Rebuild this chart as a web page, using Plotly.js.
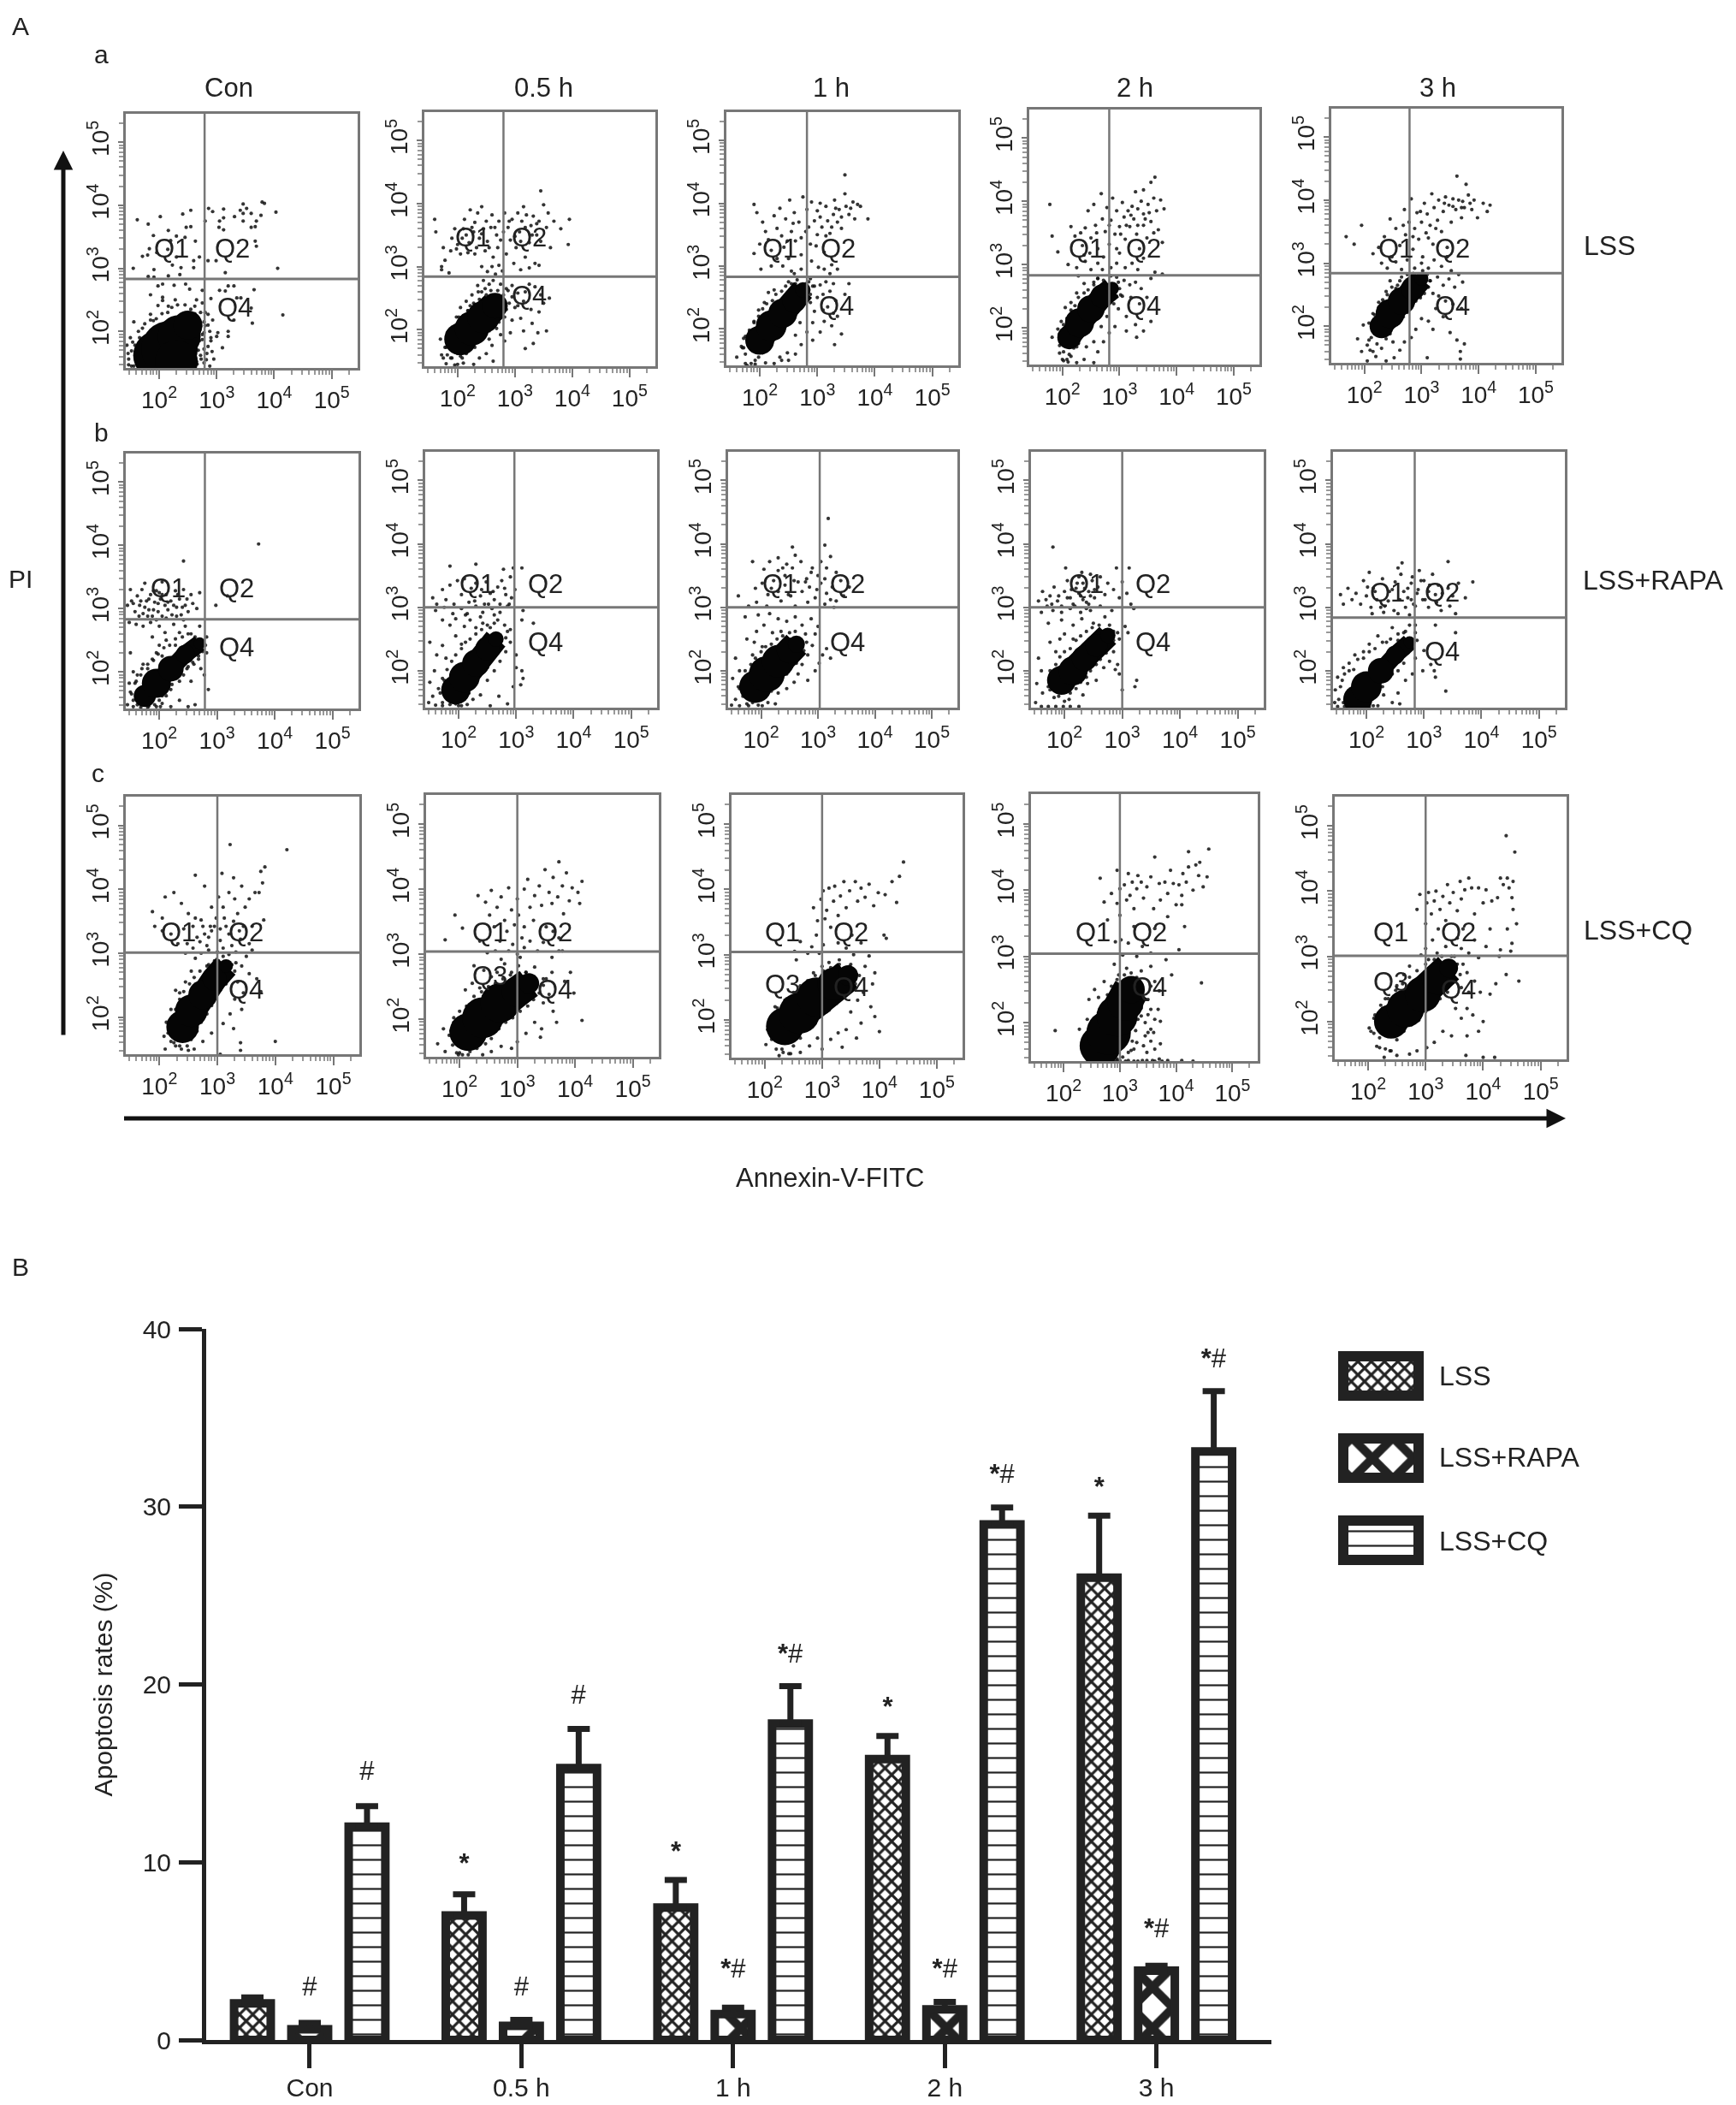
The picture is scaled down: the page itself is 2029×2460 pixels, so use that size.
<!DOCTYPE html>
<html>
<head>
<meta charset="utf-8">
<script src="https://cdn.plot.ly/plotly-3.0.1.min.js"></script>
<style>
html, body { margin: 0; padding: 0; background: #fff; }
#chart { filter: blur(0.6px); }
</style>
</head>
<body>
<div id="chart" style="width:2029px;height:2460px"></div>
<script>
// Panel A: events, as log10(Annexin), log10(PI) pairs
var dotsA1 = [1.62,3.77,1.81,3.7,2.02,3.82,2.41,3.86,2.55,3.92,2.47,3.65,2.55,3.66,2.16,3.6,1.9,3.52,2.3,3.51,2.45,3.49,2.2,3.44,2.63,3.43,1.83,3.31,1.71,3.19,1.8,3.21,1.96,3.25,2.15,3.3,2.3,3.18,2.86,3.95,2.93,3.9,3.12,3.94,2.8,3.75,3.05,3.75,3.12,3.8,3.04,3.65,3.12,3.61,3.31,3.82,3.41,3.92,3.46,4.02,3.52,3.95,3.46,3.87,3.46,3.75,3.6,3.87,3.6,3.65,3.67,3.66,3.69,3.75,3.77,3.84,3.79,4.05,3.83,4.03,4.03,3.89,3.67,3.43,3.69,3.35,4.06,3.0,1.55,3.0,1.91,2.98,1.81,2.87,1.91,2.86,2.16,2.88,2.36,2.9,2.23,3.05,2.38,3.01,2.6,3.01,2.6,3.12,2.7,3.18,2.85,3.12,2.99,3.12,3.15,2.93,1.98,2.72,2.06,2.75,2.26,2.73,2.46,2.75,2.53,2.67,2.75,2.65,1.85,2.58,2.06,2.54,2.06,2.49,2.28,2.5,2.65,2.5,1.98,2.41,2.16,2.4,2.75,2.45,2.9,2.52,3.05,2.65,3.15,2.64,3.2,2.72,3.3,2.72,3.65,2.66,3.35,2.53,3.42,2.53,3.3,2.18,3.6,2.37,3.62,2.13,4.15,2.26,1.56,2.15,1.85,2.27,1.9,2.17,2.85,2.27,2.93,2.18,2.8,2.09,2.88,2,3.02,1.98,3.2,2,3.2,1.92,3,1.92,2.75,1.87,2.85,1.76,3.1,1.74,2.95,1.56,2.83,1.65,2.73,1.56,2.68,1.7,2.88,1.45,2.66,1.48,1.52,1.69,1.47,1.56,1.59,1.62,1.44,1.78,1.54,1.83,1.64,2,1.71,2.05,1.47,1.47,1.56,1.45,2.8,2.3,2.72,2.3,2.62,2.4,2.9,1.9,2.78,1.98];
var dotsA2 = [1.6,3.75,1.62,3.55,1.75,3.3,1.78,3.1,1.72,3,1.9,3.45,1.95,3.6,1.88,3.25,2,3.35,2.05,3.2,2.1,3.6,2.12,3.75,2.15,3.5,2.2,3.38,2.22,3.9,2.28,3.55,2.3,3.7,2.3,3.2,2.35,3.85,2.38,3.45,2.42,3.95,2.45,3.6,2.48,3.25,2.5,3.72,2.52,3.4,2.58,3.62,2.6,3.82,2.62,3.15,2.68,3.5,2.7,3.3,2.72,3.72,2.8,3.55,2.82,3.85,2.85,3.2,2.88,3.62,2.92,3.42,2.95,3.75,2.98,3.05,3.02,3.3,3.05,3.85,3.08,3.55,3.12,3.72,3.15,3.95,3.18,3.15,3.2,3.82,3.25,3.38,3.28,3.65,3.32,3.8,3.38,3.5,3.42,3.72,3.45,4.2,3.5,3.98,3.55,3.62,3.58,3.85,3.62,3.3,3.68,3.72,3.8,3.6,3.95,3.75,3.93,3.35,2.42,3,2.52,2.92,2.6,3,2.66,2.88,2.72,3.02,2.78,2.93,3.1,2.95,3.25,2.98,3.35,3.05,3.42,3.02,1.72,2.95,1.85,2.9,2.35,2.7,2.45,2.78,2.62,2.78,2.75,2.72,2.85,2.65,2.95,2.7,3.05,2.58,3.18,2.6,3.25,2.72,3.35,2.68,3.45,2.55,3.5,2.42,3.6,2.5,3.05,2.38,3.15,2.45,3.28,2.32,3.42,2.28,3.3,2.1,3.1,2.18,3.15,1.98,3.4,1.95,3.55,1.98,3.18,1.7,3.32,1.78,2.95,2.15,2.92,1.95,2.82,1.82,2.75,1.92,2.6,1.75,2.5,1.62,2.38,1.55,2.62,1.5,2.28,1.45,2.1,1.47,1.95,1.44,1.8,1.46,1.72,1.6,1.7,1.85,1.8,1.72,1.88,1.55,1.9,2,1.98,2.2,2.05,2.35,2.15,2.45,2.25,2.55,2.12,2.2,2,1.62,2.08,1.55,2.55,1.85,2.68,2.02,2.82,2.2,2.72,2.12,2.18,2.3,2.28,2.42,2.36,2.6,2.48,2.65];
var dotsA3 = [1.9,3.98,1.95,3.85,2.05,3.7,2.1,3.55,2.15,3.42,2,3.35,2.2,3.25,2.25,3.8,2.3,3.6,2.35,3.92,2.38,3.48,2.42,3.3,2.45,3.75,2.5,3.12,2.52,4.05,2.55,3.55,2.6,3.85,2.62,3.4,2.68,3.7,2.72,3.18,2.75,4.1,2.8,3.55,2.82,3.9,2.88,3.35,2.9,4.02,2.95,3.72,3,3.5,3,3.88,3.05,4,3.08,3.62,3.12,3.22,3.15,3.95,3.18,3.72,3.22,3.52,3.28,3.82,3.3,4.05,3.35,3.7,3.38,3.9,3.42,3.6,3.48,4.15,3.5,3.95,3.55,3.82,3.62,4.02,3.7,3.98,3.48,4.45,3.75,3.95,3.88,3.75,3.35,2.95,3.25,3.02,3.22,2.88,3.12,2.95,3.02,2.98,2.9,3.08,2.72,2.95,2.55,2.92,2.4,3,2.2,3,2.02,2.95,1.9,3.2,2.6,2.88,2.75,2.7,2.62,2.72,2.5,2.75,2.85,2.75,2.95,2.68,3.05,2.7,3.15,2.75,3.28,2.72,3.22,2.6,3.1,2.55,3,2.5,3.32,2.45,3.48,2.55,3.55,2.72,3.18,2.35,3.28,2.25,3.1,2.3,2.95,2.28,2.92,2.1,3.12,2.12,3.25,2.05,3.35,2.2,3.42,1.92,3.3,1.75,3.05,1.95,2.92,1.82,2.82,1.95,2.72,1.75,2.62,1.6,2.5,1.5,2.35,1.55,2.25,1.45,2.1,1.46,1.92,1.44,1.75,1.45,1.6,1.55,1.72,1.7,1.82,1.95,1.75,1.88,1.68,1.72,1.9,2.1,1.98,2.3,2.08,2.42,2.15,2.58,2.25,2.62,2.38,1.5,2.48,1.62,2.62,1.9,2.7,2.1,2.88,2.42,2.82,2.5];
var dotsA4 = [1.78,3.95,1.82,3.45,1.92,3.2,2.15,3.6,2.22,3.45,2.35,3.3,2.38,3.15,2.4,3.58,2.45,3.85,2.5,3.42,2.55,3.95,2.58,3.62,2.62,3.25,2.68,4.12,2.7,3.72,2.75,3.52,2.78,3.9,2.82,3.32,2.85,3.7,2.88,4.05,2.92,3.48,2.95,3.85,3,3.6,3,3.18,3.05,3.98,3.08,3.75,3.1,3.4,3.15,3.85,3.18,3.6,3.22,3.92,3.25,3.72,3.28,4.15,3.3,3.48,3.32,3.88,3.35,3.25,3.38,4,3.42,3.62,3.42,3.8,3.48,3.42,3.5,3.95,3.55,4.3,3.55,3.68,3.6,4.05,3.65,3.85,3.68,3.55,3.72,4.02,3.78,3.88,3.62,4.38,3.42,4.18,3.75,3.35,2.1,3,2.25,2.95,2.4,3.05,2.5,2.92,2.62,3.02,2.7,2.92,2.62,2.78,2.72,2.7,2.55,2.72,2.38,2.7,2.28,2.82,2.85,2.95,2.95,3.02,3.1,2.95,3.22,3.02,3.32,2.92,3.42,3.1,3.55,2.78,3.62,2.88,3.75,2.85,2.98,2.72,3.08,2.75,3.18,2.68,3.28,2.72,3.38,2.62,3.48,2.48,3.2,2.48,3.05,2.5,3.35,2.38,2.98,2.3,3.12,2.18,3.28,2.05,3.42,1.95,3.55,2.1,3.3,1.85,3.12,1.95,2.92,2.02,2.82,1.92,2.72,1.78,2.62,1.62,2.55,1.45,2.38,1.5,2.25,1.45,2.1,1.46,1.95,1.6,1.82,1.85,1.98,2.1,1.92,1.98,2.05,2.32,2.15,2.4,2.25,2.55,2,1.5,2.15,1.55,2.25,1.7,2.42,1.7,2.55,1.78,2.68,2.02,2.78,2.18,2.9,2.38,3.02,2.52];
var dotsA5 = [1.68,3.42,1.82,3.3,1.95,3.6,2.15,3.15,2.25,3.25,2.35,3.42,2.45,3.7,2.48,3.1,2.55,3.55,2.62,3.28,2.7,3.85,2.72,3.45,2.78,3.65,2.82,4.02,2.85,3.22,2.88,3.55,2.92,3.8,2.95,3.38,3,3.65,3.02,3.1,3.05,3.95,3.08,3.48,3.1,3.78,3.15,3.6,3.18,4.1,3.2,3.3,3.22,3.88,3.28,3.68,3.3,4,3.35,3.5,3.38,3.82,3.42,4.05,3.45,3.25,3.48,3.92,3.52,3.65,3.55,4.02,3.6,3.85,3.62,4.38,3.65,4,3.7,3.72,3.72,3.98,3.75,3.88,3.78,4.25,3.82,4.08,3.88,3.85,3.92,4,3.98,3.72,4.08,3.95,4.15,3.82,4.2,3.92,2.3,3,2.4,2.92,2.55,3.02,2.65,2.9,2.75,3.05,2.88,2.92,3,3,3.12,2.92,3.22,3.05,3.35,2.95,3.45,3.1,3.52,2.88,2.62,2.72,2.72,2.62,2.55,2.6,2.45,2.72,3.15,2.72,3.28,2.78,3.38,2.65,3.48,2.75,3.58,2.62,3.65,2.82,3.72,2.7,3.2,2.52,3.3,2.48,3.42,2.4,3.55,2.35,3.7,2.28,3.25,2.28,3.38,2.15,3.5,1.9,3.62,1.78,3.68,1.6,3.75,1.72,3.12,2.08,3.2,1.95,3,2.12,2.9,1.95,2.82,1.82,2.7,1.75,2.62,1.62,2.52,1.5,2.38,1.45,2.2,1.52,2.05,1.45,1.95,1.6,1.88,1.8,1.98,2.02,2.08,1.78,2.1,1.62,2.15,2.2,2.25,2.38,2.38,2.55,2.5,1.75,3.68,1.48,3.1,1.5];
var dotsB1 = [1.75,3.4,1.9,3.28,2,3.25,2.05,3.42,2.42,3.75,3.72,4.02,1.5,3.3,1.45,3.05,1.52,3.12,1.58,2.95,1.62,3.2,1.66,3.05,1.7,3.3,1.72,2.92,1.78,3.12,1.82,2.98,1.85,3.22,1.88,2.88,1.92,3.1,1.95,3.28,1.98,2.95,2.02,3.15,2.05,2.88,2.1,3.05,2.12,3.22,2.15,2.98,2.2,3.12,2.22,2.9,2.28,3.28,2.3,3.02,2.35,3.15,2.38,2.9,2.42,3.3,2.45,3.05,2.5,2.95,2.55,3.22,2.58,3.08,2.65,3,2.7,3.25,3.18,3.2,2.98,3.05,1.48,2.78,1.6,2.75,1.72,2.72,1.85,2.78,2,2.72,2.1,2.62,2.25,2.75,2.35,2.62,2.45,2.72,2.55,2.6,2.7,2.72,1.88,2.55,2,2.42,2.12,2.5,2.28,2.42,1.5,2.3,1.55,2,1.48,1.82,1.52,1.65,1.62,1.62,1.6,1.85,1.68,1.95,1.8,2.05,1.72,2.12,1.9,2.18,1.95,2.3,2.05,2.25,1.45,1.48,1.55,1.45,1.68,1.44,1.82,1.46,1.95,1.45,2.05,1.5,2.12,1.62,2.2,1.72,2.35,1.85,2.48,2.05,2.6,2.12,2.68,2.25,2.72,2.05,2.78,1.95,2.85,1.72,2.82,2.3,2.55,1.85,2.35,1.55,2.5,1.45,2.62,1.48,2.2,1.45];
var dotsB2 = [1.85,3.65,2.3,3.68,3.1,3.62,2.78,3.6,2.95,3.62,1.55,3.15,1.62,3.05,1.72,3.28,1.78,3.12,1.85,3.35,1.92,3.05,1.98,3.42,2.05,3.2,2.1,3.45,2.18,3.08,2.22,3.3,2.3,3.38,2.38,3.18,2.45,3.05,2.48,3.4,2.55,3.22,2.62,3.12,2.68,3.32,2.75,3.42,2.82,3.2,2.88,3.05,2.9,3.48,2.98,3.28,1.6,2.95,1.75,3,1.9,2.9,2.05,2.98,2.15,2.9,2.3,3.02,2.42,2.92,2.58,2.98,2.72,2.92,2.85,3.02,3.12,2.95,3.1,2.8,3.3,2.75,1.72,2.8,1.85,2.72,1.95,2.82,2.1,2.7,2.2,2.8,2.3,2.68,2.42,2.75,2.55,2.68,2.68,2.8,2.8,2.72,2.9,2.65,1.95,2.55,2.05,2.42,1.72,2.4,1.5,2.45,1.62,2.25,1.78,2.2,1.58,2,1.5,1.82,1.65,1.72,1.75,1.85,1.55,1.6,1.48,1.5,1.6,1.46,1.72,1.45,1.85,1.47,2,1.45,2.15,1.47,2.25,1.55,2.38,1.62,2.5,1.85,2.62,2,2.72,2.15,2.82,2.3,2.9,2.45,3,2.05,3.1,2.0,2.95,1.75,3.12,1.88,3.08,1.78,3,2.25,2.7,1.6,2.55,1.45,2.85,1.48];
var dotsB3 = [1.6,3.18,1.85,3.72,2.3,3.78,2.55,3.95,2.6,3.82,3.12,3.98,3.18,4.4,2.45,3.68,2.05,3.6,2.15,3.72,2.3,3.58,2.42,3.5,2.55,3.62,2.7,3.72,2.8,3.45,2.9,3.62,3,3.5,3.05,3.72,3.15,3.62,3.22,3.8,3.32,3.55,3.4,3.42,1.9,3.3,2.02,3.38,2.12,3.2,2.22,3.42,2.3,3.25,2.42,3.35,2.52,3.18,2.65,3.4,2.72,3.25,2.85,3.32,2.95,3.15,3.05,3.38,3.15,3.22,3.25,3.32,3.32,3.1,3.45,3.18,3.55,3.32,1.78,3.02,1.92,3.08,2.1,3.02,2.35,3.1,2.6,3.02,2.82,3.08,3.12,3.05,3.28,3,1.72,2.85,1.95,2.88,2.15,2.9,2.3,2.82,2.45,2.78,2.6,2.85,2.72,2.72,2.88,2.82,3,2.7,2.95,2.58,1.92,2.62,2.05,2.72,2.2,2.6,2.35,2.62,1.75,2.5,1.88,2.45,2.02,2.38,1.85,2.25,1.55,2.2,1.62,2,1.5,1.88,1.62,1.72,1.55,1.55,1.48,1.46,1.62,1.45,1.78,1.45,1.95,1.46,2.12,1.5,2.25,1.48,2.3,1.65,2.45,1.72,2.58,1.82,2.65,1.95,2.72,2.1,2.82,2.25,2.9,2.4,3.02,2.12,2.95,2.0,3.08,2.25,3.15,2.35,3.22,2.2,2.82,1.85];
var dotsB4 = [1.8,3.95,2.02,3.62,2.3,3.55,2.45,3.52,2.9,3.62,3.12,3.62,1.55,3.1,1.62,3.25,1.7,3.02,1.75,3.18,1.82,3.32,1.88,3.1,1.95,3.02,2,3.25,2.05,3.42,2.1,3.15,2.15,3.05,2.2,3.3,2.25,3.48,2.28,3.18,2.32,3.38,2.38,3.08,2.42,3.25,2.48,3.42,2.52,3.15,2.58,3.32,2.62,3.48,2.7,3.2,2.75,3.38,2.85,3.28,2.95,3.15,3,3.4,3.08,3.22,3.15,3.05,3.2,2.98,1.6,2.92,1.8,2.95,1.95,2.92,2.1,2.98,2.28,2.92,2.45,2.95,2.62,3.02,2.82,2.95,1.72,2.75,1.95,2.8,2.15,2.72,2.3,2.82,2.5,2.75,2.7,2.85,2.78,2.72,2.85,2.62,2.95,2.5,3.05,2.7,3.1,2.6,1.75,2.45,1.92,2.5,1.85,2.3,2,2.58,2.15,2.5,1.55,2.2,1.6,2,1.52,1.8,1.62,1.65,1.5,1.5,1.6,1.44,1.72,1.44,1.85,1.44,1.98,1.44,2.1,1.44,2.25,1.44,1.72,1.75,1.78,1.92,2.32,1.62,2.4,1.8,2.55,1.85,2.68,2.05,2.78,2.15,2.85,2.3,2.92,2.1,2.95,1.95,3.25,1.85,3.22,1.75,3,1.7,2.88,2.02];
var dotsB5 = [2.05,3.55,2.55,3.62,2.62,3.7,3.42,3.72,3.85,3.4,1.95,3.42,2.12,3.3,2.28,3.45,2.4,3.25,2.5,3.4,2.6,3.52,2.72,3.3,2.8,3.48,2.88,3.22,2.92,3.58,3,3.42,3.08,3.25,3.15,3.52,3.25,3.35,3.32,3.22,3.42,3.3,3.5,3.18,3.6,3.38,3.72,3.15,1.55,3.2,1.6,3.05,1.68,3.3,1.75,3.12,1.82,3.22,1.9,3.05,2,3.18,2.08,3,2.18,3.12,2.25,3,2.38,3.1,2.48,2.95,2.58,3.12,2.68,3,2.78,3.12,2.85,3.02,2.98,3.12,3.08,3,3.22,3.08,3.3,2.95,3.45,3.02,3.55,2.9,2.1,2.9,2.3,2.92,2.55,2.9,2.75,2.88,2.85,2.72,2.85,2.6,2.75,2.72,2.65,2.6,2.45,2.68,2.35,2.45,2.2,2.55,2.55,2.48,3.2,2.72,3.55,2.6,3.0,2.32,3.12,2.1,3.18,2,3.38,1.68,2.98,2.0,2.85,2.2,2.8,1.95,2.68,1.85,2.55,1.65,2.45,1.5,2.3,1.62,2.2,1.45,1.45,1.5,1.46,1.7,1.5,1.9,1.6,2.05,1.7,2.12,1.8,2.25,1.95,2.3,2.05,2.42,1.5,1.44,1.62,1.44,2.05,1.44,2.58,1.48,3.2,1.9];
var dotsC1 = [1.88,3.65,1.92,3.42,2.05,3.55,2.1,3.88,2.25,3.95,2.38,3.78,2.5,3.62,2.62,4.22,2.78,4.05,2.9,3.72,2.88,3.42,3.02,3.88,3.08,4.25,3.12,3.55,3.2,3.95,3.22,4.7,3.28,4.18,3.3,3.85,3.35,3.62,3.42,4.05,3.48,3.72,3.55,3.85,3.6,3.42,3.65,3.95,3.72,3.95,3.78,4.1,3.75,4.28,3.8,3.52,4.2,4.62,3.82,4.35,2.05,3.35,2.2,3.3,2.32,3.15,2.42,3.38,2.48,3.15,2.58,3.42,2.65,3.25,2.72,3.52,2.78,3.3,2.82,3.12,2.9,3.35,2.98,3.55,3.05,3.2,3.1,3.72,3.2,3.3,3.25,3.12,3.4,3.22,3.45,3.42,3.55,3.15,3.6,3.05,2.45,3,2.58,3.08,2.72,3,2.85,3.05,3,3.02,3.1,3.08,3.2,2.98,3.32,3.02,3.5,2.95,2.62,2.92,2.85,2.82,3.02,2.88,3.25,2.82,3.42,2.8,3.55,2.68,3.68,2.6,3.35,2.55,3.45,2.38,3.3,2.28,3.42,2.12,3.75,2.4,3.05,1.42,2.55,2.72,2.45,2.55,2.35,2.38,2.2,2.12,2.28,2.42,2.12,1.92,2.08,1.7,2.1,1.5,2.25,1.6,2.35,1.55,2.5,1.48,2.6,1.5,2.75,1.62,2.9,1.75,3.1,1.9,3.22,2.05,3.28,1.82,3.4,1.6,4,1.62,3.4,1.48];
var dotsC2 = [1.75,3.22,1.92,3.6,2.05,3.4,2.32,3.9,2.45,3.8,2.52,3.6,2.55,3.98,2.6,3.42,2.65,3.72,2.7,3.2,2.72,3.88,2.78,3.52,2.82,3.35,2.85,4.02,2.9,3.68,2.92,3.15,2.95,3.45,3,3.85,3.02,3.6,3.08,3.25,3.12,4,3.12,3.42,3.18,4.15,3.22,3.72,3.28,3.52,3.3,3.9,3.38,4.05,3.42,3.75,3.48,4.3,3.5,3.42,3.55,3.95,3.6,3.78,3.62,4.18,3.7,3.88,3.72,4.42,3.78,4.05,3.8,3.62,3.85,4.25,3.9,3.82,3.95,4.02,4.05,3.95,4.12,4.12,4.08,3.78,3.72,3.25,3.62,3.35,3.78,3.05,2.35,3.2,2.48,3.02,2.62,3.05,2.72,2.92,2.85,3.05,3,3,3.12,3.1,3.22,3.2,3.35,3.05,3.45,3.18,3.6,2.95,3.72,3.05,2.25,2.82,2.42,2.75,2.55,2.65,2.65,2.72,2.78,2.85,2.9,2.72,3.02,2.82,3.15,2.72,3.3,2.8,3.45,2.62,3.6,2.72,3.82,2.58,3.92,2.72,3.98,2.4,2.1,2.45,2.22,2.55,2.35,2.48,3.45,2.25,3.55,2.38,3.62,2.12,3.68,1.95,3.42,1.85,3.3,1.95,3.15,1.78,3,1.65,2.9,1.55,2.72,1.58,2.55,1.5,2.4,1.45,2.15,1.45,2,1.48,1.75,1.5,1.62,1.62,1.72,1.85,1.85,1.82,1.95,1.62,1.9,2.02,3.05,2.95,4.12,1.98,3.4,1.72,1.98,1.45];
var dotsC3 = [2.18,2.2,2.52,3.05,2.55,2.92,2.62,3.2,2.75,3.02,2.82,3.12,2.9,3.3,2.95,3.02,3.02,3.15,3.05,3.55,2.85,3.72,2.92,3.52,2.98,3.85,3.02,3.98,3.08,3.68,3.12,4.02,3.15,3.42,3.2,3.82,3.22,4.05,3.28,3.6,3.32,3.9,3.38,4.12,3.42,3.72,3.48,3.98,3.52,3.3,3.58,4.12,3.62,3.82,3.68,4.02,3.75,3.88,3.82,4.08,3.9,3.75,3.98,3.95,4.1,3.92,4.22,4.12,4.3,3.8,4.42,4.42,4.35,4.2,3.28,3.18,3.42,3.1,3.55,3,3.68,3.18,3.82,2.98,4.08,3.3,4.12,3.25,3.12,2.88,3.3,2.92,3.48,2.82,3.6,2.7,3.75,2.82,3.92,2.72,3.88,2.55,3.72,2.42,3.62,2.3,3.85,2.2,3.92,2.05,4.0,1.82,3.68,1.95,3.5,2.12,3.6,1.72,3.42,1.85,3.28,1.8,3.15,1.7,3.35,1.58,3,1.55,2.92,1.72,2.78,1.6,2.62,1.5,2.45,1.48,2.3,1.55,2.25,1.45,2.02,1.62,2.15,1.72,2.12,1.85,2.2,2.05,2.3,2.15,2.38,2.32,2.55,2.42,2.7,2.55,2.85,2.72,3,2.82];
var dotsC4 = [2.78,3.55,2.85,3.95,2.95,3.8,3,4.02,3,3.62,3.02,3.25,3.05,3.02,3.08,4.08,3.12,3.85,3.15,4.25,3.18,3.92,3.22,4.12,3.25,3.72,3.3,4.02,3.32,4.22,3.38,4.12,3.42,3.88,3.48,4.05,3.55,4.2,3.6,3.72,3.62,4.5,3.7,4.1,3.72,3.85,3.8,4.12,3.85,3.95,3.9,4.3,3.95,4.1,4,3.78,4.05,4.08,4.1,3.92,4.12,4.25,4.18,4.12,4.22,4.58,4.22,4.35,4.3,4,4.35,4.38,4.4,4.22,4.42,4.42,4.48,4.05,4.55,4.2,4.58,4.62,2.95,4.3,2.65,4.18,2.72,3.82,3.25,3.45,3.4,3.15,3.55,3.05,3.62,3.42,3.85,3.6,4.1,3.78,4.05,3.1,4.15,3.45,3.15,3.2,3.3,3,2.92,3.22,2.9,2.88,2.98,2.72,3.12,2.82,3.38,2.78,3.55,2.85,3.62,2.62,3.82,2.95,3.92,2.72,4.45,2.6,3.7,2.48,3.55,2.55,3.45,2.35,3.5,2.12,3.68,2.2,3.72,2.02,3.6,1.85,3.55,1.72,3.72,1.68,3.48,1.55,3.62,1.42,3.75,1.42,3.85,1.43,3.4,1.43,3.25,1.42,3.1,1.42,2.95,1.43,2.8,1.42,2.65,1.42,2.5,1.43,4.1,1.43,4.3,1.42,2.4,1.75,2.32,1.62,2.28,1.9,2.42,2.05,2.45,2.35,2.55,2.5,2.62,2.38,2.72,2.62,1.85,1.88,3.55,1.9,3.5,2.35,3.62,2.05,3.45,1.8,3.3,1.7,3.2,1.58,3.38,2.1];
var dotsC5 = [2.85,3.72,2.9,3.95,3,3.5,3.02,3.82,3.05,3.98,3.1,3.65,3.15,3.85,3.18,4,3.22,3.42,3.25,3.72,3.3,3.92,3.35,3.55,3.38,4.1,3.42,3.82,3.48,3.98,3.55,3.7,3.6,4.15,3.62,3.88,3.68,4.02,3.75,4.2,3.8,4.05,3.85,3.65,3.92,4.05,4,3.82,4.05,4.02,4.15,3.85,4.25,3.9,4.3,4.2,4.35,4.1,4.42,4.2,4.45,4.05,4.5,3.9,4.52,4.15,4.4,4.85,4.55,4.6,4.52,3.72,4.58,3.5,4.42,3.42,4.5,3.2,4.48,3.08,4.3,3.1,4.28,3,4.12,3.42,4.05,3.15,3.55,3.28,3.65,3.42,3.85,3.25,3,3.12,3.12,3.25,3.2,3.05,3.35,3.15,3.45,3,3.62,3.12,3.75,3.05,3.92,2.98,2.92,3.02,3.05,2.95,3.55,2.88,3.72,2.75,3.85,2.62,4.4,2.72,4.62,2.62,4.22,2.58,3.95,2.45,4.12,2.42,3.75,2.45,3.62,2.52,3.72,2.2,3.82,2.1,3.62,2.05,3.52,2.2,4.0,2.0,3.92,1.85,3.72,1.78,3.45,1.78,3.3,1.85,3.15,1.68,3.02,1.6,2.85,1.55,2.72,1.5,2.5,1.48,2.4,1.55,2.28,1.45,2.15,1.62,2.2,1.75,2.05,1.85,2.1,2.05,2.25,2.2,2.3,2.35,2.5,2.55,2.62,2.72,2.72,2.85,3.7,1.48,4.0,1.45,4.2,1.45];

// events packed along the edge of each dense population, plus the thicker parts of the upper clusters
var haloA1 = [1.75,2.12,1.85,2.18,1.95,2.2,2.05,2.28,2.15,2.3,2.22,2.38,2.32,2.42,2.45,2.42,2.55,2.35,2.62,2.28,2.68,2.18,2.72,2.08,2.78,2.15,2.75,1.95,2.7,1.85,2.78,1.72,2.72,1.62,2.65,1.52,2.78,1.5,2.6,1.44,1.68,1.5,1.62,1.7,1.58,1.78,1.5,1.9,1.46,1.65,1.52,1.45,1.66,1.9,1.7,1.82,2.85,2.1,2.9,1.85,2.82,1.55,2.92,1.68];
var haloA2 = [1.82,1.95,1.9,2.02,1.98,2.08,2.02,2.2,2.1,2.22,2.18,2.3,2.22,2.38,2.3,2.4,2.38,2.48,2.42,2.6,2.5,2.55,2.58,2.62,2.55,2.72,2.7,2.62,2.05,1.58,2.15,1.62,2.2,1.72,2.3,1.72,2.35,1.82,2.42,1.85,2.48,1.95,2.55,1.98,2.62,2.05,2.65,2.15,2.72,2.18,2.78,2.28,2.85,2.32,2.9,2.42,2.95,2.52,1.78,1.72,1.82,1.6,1.9,1.55,2,1.45,1.75,1.55,2.8,2.55,2.88,2.62,1.85,1.85,1.95,1.92,3,2.35,2.7,2.3,1.98,3.28,2.08,3.45,2.18,3.22,2.25,3.62,2.33,3.3,2.42,3.52,2.55,3.3,2.65,3.62,2.75,3.42,2.9,3.72,3,3.48,3.1,3.4,3.18,3.62,3.3,3.5,3.38,3.68,3.45,3.4];
var haloA3 = [1.72,1.85,1.82,1.98,1.9,2.12,1.98,2.2,2.05,2.32,2.12,2.4,2.22,2.45,2.28,2.55,2.38,2.6,2.45,2.68,2.55,2.72,2.65,2.78,1.98,1.55,2.05,1.62,2.12,1.72,2.2,1.8,2.28,1.88,2.35,1.98,2.42,2.05,2.5,2.12,2.58,2.22,2.66,2.28,2.72,2.38,2.8,2.45,2.88,2.55,2.92,2.68,1.75,1.6,1.85,1.45,1.92,1.5,1.78,1.42,1.7,1.7,2.88,2.8,2.8,2.72,2.3,3.12,2.48,3.4,2.58,3.68,2.72,3.45,2.85,3.62,2.98,3.32,3.05,3.78,3.15,3.48,3.25,3.62,3.32,3.92,3.42,3.78,3.58,3.92,3.65,3.75];
var haloA4 = [1.95,1.9,2.02,2.05,2.08,2.15,2.15,2.28,2.22,2.35,2.28,2.48,2.38,2.55,2.45,2.6,2.55,2.68,2.62,2.78,2.72,2.75,2.2,1.68,2.28,1.75,2.32,1.85,2.4,1.95,2.48,2.02,2.55,2.1,2.62,2.18,2.7,2.25,2.78,2.35,2.85,2.42,2.95,2.5,3,2.62,2.02,1.62,2.08,1.5,1.95,1.72,2.12,1.58,2.02,1.48,2.95,2.8,2.85,2.82,2.32,3.5,2.48,3.18,2.6,3.5,2.72,3.12,2.82,3.62,2.95,3.25,3.02,3.48,3.12,3.62,3.2,3.78,3.32,3.62,3.45,3.72,3.52,3.82,3.6,3.5];
var haloA5 = [2.08,2.05,2.18,2.18,2.25,2.3,2.32,2.42,2.4,2.5,2.48,2.62,2.58,2.65,2.65,2.78,2.75,2.82,2.38,1.8,2.45,1.88,2.52,2,2.6,2.05,2.68,2.15,2.75,2.22,2.82,2.3,2.9,2.4,2.98,2.45,3.05,2.52,3.12,2.62,3.15,2.72,2.12,1.82,2.22,1.72,2.3,1.65,2.05,1.7,2.15,1.6,3.1,2.82,3.02,2.88,2.68,3.6,2.85,3.42,2.98,3.82,3.12,3.4,3.25,3.55,3.4,3.95,3.55,3.9,3.7,3.88,3.85,3.95];
var haloB1 = [1.5,1.68,1.58,1.82,1.62,1.95,1.7,2.05,1.8,2.12,1.88,2.2,1.98,2.28,2.08,2.38,2.18,2.42,2.28,2.52,2.4,2.55,2.5,2.6,2.62,2.55,2,1.55,2.05,1.62,2.12,1.7,2.22,1.8,2.3,1.9,2.42,1.95,2.5,2.08,2.58,2.15,2.68,2.2,2.75,2.32,2.8,2.42,2.82,2.55,1.55,1.55,1.62,1.48,1.7,1.55,1.8,1.44,1.92,1.48,2.02,1.45,1.75,1.7,1.55,3.08,1.68,3.12,1.75,3.02,1.82,3.15,1.9,2.98,1.98,3.08,2.05,3.22,2.15,3.1,2.25,3.05,2.32,3.22,2.4,3.02,2.48,3.15,1.65,2.88,1.8,2.88,1.95,2.82,2.12,2.85,2.3,2.88,2.42,2.82];
var haloB2 = [1.72,1.88,1.8,2.02,1.88,2.15,1.95,2.25,2.05,2.35,2.12,2.45,2.2,2.5,2.3,2.58,2.4,2.65,2.5,2.72,2.62,2.75,2.1,1.55,2.18,1.65,2.25,1.75,2.32,1.85,2.42,1.98,2.5,2.05,2.58,2.18,2.68,2.28,2.75,2.4,2.82,2.52,2.85,2.62,1.78,1.6,1.85,1.52,1.95,1.48,1.72,1.5,1.68,1.65,2.05,1.45,2.12,2.88,2.28,3.1,2.4,3.28,2.52,3.05,2.6,3.25,2.72,3.05,2.8,3.3,2.92,3.15,2.62,2.88,2.38,2.85];
var haloB3 = [1.68,1.85,1.72,2,1.82,2.1,1.9,2.2,2,2.3,2.08,2.38,2.18,2.42,2.28,2.5,2.38,2.55,2.5,2.6,2.6,2.62,2.1,1.62,2.18,1.68,2.28,1.78,2.35,1.88,2.45,1.95,2.52,2.05,2.62,2.12,2.68,2.22,2.75,2.32,2.8,2.45,2.78,2.58,1.68,1.6,1.75,1.48,1.85,1.5,1.95,1.55,2.02,1.45,1.6,1.75,2.48,3.2,2.58,3.42,2.78,3.4,2.88,3.55,2.98,3.28,3.12,3.45,3.22,3.12,2.18,3.3,2.38,3.62];
var haloB4 = [1.75,2,1.85,2.1,1.92,2.22,2,2.3,2.1,2.35,2.2,2.48,2.28,2.55,2.38,2.62,2.48,2.68,2.6,2.72,2.1,1.65,2.2,1.72,2.28,1.82,2.38,1.9,2.45,2,2.55,2.1,2.62,2.18,2.72,2.28,2.78,2.38,2.85,2.48,2.92,2.6,1.75,1.7,1.82,1.58,1.9,1.6,2,1.52,2.08,1.55,2.05,3.15,2.12,3.28,2.18,3.02,2.25,3.22,2.32,3.12,2.35,3.3,2.42,3.05,2.45,3.18,2.52,3.28,2.38,2.98,2.22,3.38,1.9,3.18,1.78,3.05,1.68,3.12];
var haloB5 = [1.58,1.85,1.62,1.95,1.7,2,1.78,2.02,1.85,2.18,1.95,2.2,2.05,2.3,2.15,2.35,2.28,2.45,2.42,2.5,2.55,2.58,2.68,2.62,2.1,1.55,2.2,1.65,2.28,1.75,2.35,1.88,2.45,1.95,2.55,2,2.65,2.12,2.72,2.28,2.8,2.38,2.88,2.48,1.52,1.55,1.6,1.5,1.72,1.48,1.85,1.44,1.98,1.48,2.12,1.45,1.55,1.75,2.65,3.25,2.72,3.15,2.78,3.38,2.82,3.05,2.9,3.28,2.95,3.42,3.02,3.12,3.1,3.35,3.2,3.2,2.32,3.02,2.45,3.28,2.15,3.25,2.02,3.32];
var haloC1 = [2.18,1.95,2.28,2.12,2.35,2.28,2.42,2.4,2.52,2.52,2.6,2.62,2.7,2.72,2.82,2.8,2.95,2.88,2.55,1.65,2.65,1.78,2.72,1.92,2.82,2.05,2.9,2.18,2.98,2.3,3.05,2.42,3.15,2.52,3.22,2.62,3.3,2.72,3.32,2.85,2.2,1.62,2.28,1.55,2.38,1.5,2.48,1.55,2.15,1.75,3.1,2.95,2.62,3.55,2.75,3.42,2.85,3.25,2.95,3.42,3.05,3.38,3.15,3.42,3.28,3.5,3.38,3.35,2.7,3.18];
var haloC2 = [1.9,1.95,2,2.12,2.12,2.2,2.25,2.35,2.38,2.42,2.5,2.5,2.62,2.55,2.75,2.62,2.88,2.68,3.02,2.7,3.15,2.72,2.3,1.55,2.45,1.62,2.55,1.7,2.68,1.85,2.8,1.95,2.92,2.02,3.05,2.12,3.18,2.2,3.28,2.3,3.38,2.4,3.45,2.52,3.5,2.62,1.88,1.6,1.95,1.48,2.05,1.45,2.18,1.5,1.82,1.75];
var haloC3 = [2.12,2.05,2.22,2.18,2.35,2.3,2.5,2.42,2.62,2.52,2.75,2.6,2.88,2.68,3.02,2.75,3.15,2.8,3.3,2.85,2.5,1.6,2.62,1.72,2.75,1.85,2.88,1.95,3,2.08,3.12,2.15,3.25,2.25,3.38,2.38,3.48,2.45,3.58,2.55,3.65,2.68,2.12,1.7,2.2,1.55,2.32,1.5,2.42,1.48,2.05,1.85,3.5,2.85];
var haloC4 = [2.45,1.5,2.52,1.62,2.5,1.85,2.55,2,2.62,2.15,2.7,2.28,2.78,2.42,2.85,2.55,2.95,2.65,3.08,2.72,3.2,2.75,3.3,2.68,3.35,2.52,3.42,2.38,3.38,2.22,3.32,2.05,3.28,1.88,3.22,1.72,3.15,1.55,3.05,1.48,2.95,1.45,2.85,1.5,2.7,1.45,2.6,1.44,3.1,1.7,3.25,1.6,3.42,1.65,3.5,1.85,3.55,2.2,3.62,1.6,3.45,2,2.62,1.42,2.75,1.43,2.9,1.42,3,1.43,3.15,1.43,3.32,1.42,3.48,1.43,3.58,1.43,3.7,1.45];
var haloC5 = [2.12,2.1,2.22,2.25,2.35,2.35,2.48,2.48,2.6,2.58,2.72,2.68,2.85,2.78,3,2.88,3.15,2.95,3.28,3,2.5,1.72,2.62,1.85,2.75,1.95,2.88,2.02,3,2.15,3.12,2.28,3.25,2.35,3.38,2.45,3.48,2.6,3.6,2.72,3.65,2.88,2.1,1.82,2.2,1.6,2.3,1.58,2.38,1.55,2.02,1.9,3.5,3];

// centre line of each dense population
var coreA1 = [[1.98,1.62],[2.18,1.72],[2.35,1.92],[2.5,2.1],[2.3,1.52]];
var coreA2 = [[2.05,1.85],[2.25,2.02],[2.45,2.2],[2.65,2.38]];
var coreA3 = [[2,1.82],[2.2,2.05],[2.4,2.25],[2.6,2.45],[2.75,2.62]];
var coreA4 = [[2.12,1.85],[2.3,2.08],[2.5,2.3],[2.7,2.5],[2.87,2.62]];
var coreA5 = [[2.3,2],[2.45,2.2],[2.65,2.4],[2.85,2.6],[3,2.75]];
var coreB1 = [[1.75,1.62],[1.95,1.82],[2.2,2.05],[2.45,2.28],[2.7,2.45]];
var coreB2 = [[1.95,1.7],[2.1,1.9],[2.3,2.12],[2.5,2.35],[2.65,2.5]];
var coreB3 = [[1.9,1.75],[2.1,1.95],[2.3,2.15],[2.5,2.32],[2.62,2.42]];
var coreB4 = [[1.95,1.85],[2.15,2],[2.35,2.2],[2.55,2.4],[2.75,2.56]];
var coreB5 = [[1.85,1.55],[2,1.75],[2.25,2],[2.5,2.25],[2.75,2.45]];
var coreC1 = [[2.4,1.85],[2.55,2.1],[2.75,2.35],[2.95,2.6],[3.15,2.8]];
var coreC2 = [[2.15,1.8],[2.4,2.02],[2.7,2.25],[3,2.42],[3.2,2.55]];
var coreC3 = [[2.35,1.9],[2.6,2.1],[2.9,2.35],[3.2,2.55],[3.45,2.68]];
var coreC4 = [[2.65,1.65],[2.8,1.85],[2.95,2.1],[3.1,2.3],[3.2,2.5]];
var coreC5 = [[2.4,2],[2.65,2.2],[2.95,2.42],[3.2,2.65],[3.4,2.82]];
var gateX = [2.79,2.8,2.82,2.82,2.79, 2.79,2.97,3.03,3,2.84, 3,3,3,3,3];
var gateY = [2.83,2.84,2.83,2.83,2.84, 2.83,3,3,3,2.84, 3.01,3.04,3.04,3.04,3.01];
var tickText = ['10<sup>2</sup>','10<sup>3</sup>','10<sup>4</sup>','10<sup>5</sup>'];
var tickValues = [100,1000,10000,100000];
var timeLabels = ['Con','0.5 h','1 h','2 h','3 h'];
var rowLabels = ['LSS','LSS+RAPA','LSS+CQ'];

// Panel B: apoptosis rates
var groupIndex = [0,1,2,3,4];
var rateLSS = [2.06,7,7.45,15.8,26];
var rateRAPA = [0.6,0.8,1.46,1.72,3.9];
var rateCQ = [12,15.3,17.8,29,33.1];
var errLSS = [0.34,1.2,1.55,1.3,3.5];
var errRAPA = [0.36,0.33,0.36,0.42,0.28];
var errCQ = [1.15,2.2,2.1,0.95,3.4];
var sigText = ['#','#','<b>*</b>','#','#','<b>*</b>','<b>*</b>#','<b>*</b>#','<b>*</b>','<b>*</b>#','<b>*</b>#','<b>*</b>','<b>*</b>#','<b>*</b>#'];
var sigX = [0,0.27,0.73,1,1.27,1.73,2,2.27,2.73,3,3.27,3.73,4,4.27];
var sigY = [2.9,15,9.8,2.9,19.3,10.5,3.9,21.6,18.6,3.9,31.7,31,6.15,38.2];

// pixel layout of the page
var W = 2029, H = 2460;
var panelBoxes = [
  [147,418,133,430],[496,766,131,428],[849,1120,131,427],[1203,1472,128,426],[1556,1825,127,424],
  [147,419,530,828],[497,768,528,827],[851,1119,528,827],[1205,1477,528,827],[1558,1829,528,827],
  [147,420,931,1232],[498,770,929,1235],[855,1125,929,1236],[1205,1470,928,1240],[1560,1831,931,1238]
];
var coreSizes = [
  [58,66,50,34,50],[38,40,38,30],[34,36,34,28,18],[28,34,32,28,16],[28,34,32,28,16],
  [26,34,30,22,14],[34,36,32,28,18],[38,42,38,30,20],[34,34,30,26,18],[34,36,30,22,14],
  [38,38,34,28,16],[44,48,46,36,24],[44,48,46,38,24],[48,52,48,42,32],[40,44,42,36,22]
];
var coreLines = [34,34,28,26,26, 20,28,32,28,20, 30,36,38,42,36];
var allDots = [dotsA1,dotsA2,dotsA3,dotsA4,dotsA5,dotsB1,dotsB2,dotsB3,dotsB4,dotsB5,dotsC1,dotsC2,dotsC3,dotsC4,dotsC5];
var allHalos = [haloA1,haloA2,haloA3,haloA4,haloA5,haloB1,haloB2,haloB3,haloB4,haloB5,haloC1,haloC2,haloC3,haloC4,haloC5];
var allCores = [coreA1,coreA2,coreA3,coreA4,coreA5,coreB1,coreB2,coreB3,coreB4,coreB5,coreC1,coreC2,coreC3,coreC4,coreC5];
var quadLabels = [
  [[128,185,'Q1'],[173,185,'Q2'],[175,229,'Q4']],[[352,177,'Q1'],[394,177,'Q2'],[394,220,'Q4']],
  [[581,185,'Q1'],[624,185,'Q2'],[623,228,'Q4']],[[809,185,'Q1'],[852,185,'Q2'],[852,228,'Q4']],
  [[1040,185,'Q1'],[1082,185,'Q2'],[1082,228,'Q4']],
  [[125,438,'Q1'],[176,438,'Q2'],[176,482,'Q4']],[[355,435,'Q1'],[406,435,'Q2'],[406,478,'Q4']],
  [[581,435,'Q1'],[631,435,'Q2'],[631,478,'Q4']],[[809,435,'Q1'],[859,435,'Q2'],[859,478,'Q4']],
  [[1033,441,'Q1'],[1074,441,'Q2'],[1074,485,'Q4']],
  [[133,694,'Q1'],[183,694,'Q2'],[183,737,'Q4']],[[365,694,'Q1'],[413,694,'Q2'],[365,727,'Q3'],[413,737,'Q4']],
  [[583,694,'Q1'],[634,694,'Q2'],[583,733,'Q3'],[634,735,'Q4']],[[814,694,'Q1'],[856,694,'Q2'],[856,735,'Q4']],
  [[1036,694,'Q1'],[1086,694,'Q2'],[1036,731,'Q3'],[1086,737,'Q4']]
];
var shrink = 2029 / 1293;
var FONT = '"Liberation Sans", Arial, sans-serif';
var INK = '#222';

var minorVals = [];
[10,100,1000,10000,100000].forEach(function (d) {
  [2,3,4,5,6,7,8,9].forEach(function (m) { minorVals.push(d * m); });
});

function pow10(v) { return Math.pow(10, v); }
function px(x) { return x / W; }
function py(y) { return 1 - y / H; }
function label(x, y, text, size, extra) {
  return Object.assign({
    x: px(x), y: py(y), xref: 'paper', yref: 'paper', text: text, showarrow: false,
    xanchor: 'center', yanchor: 'middle', font: {family: FONT, size: size, color: INK}
  }, extra || {});
}

var traces = [];
var layout = {
  width: W, height: H,
  margin: {l: 0, r: 0, t: 0, b: 0},
  paper_bgcolor: '#fff', plot_bgcolor: '#fff',
  showlegend: false,
  barmode: 'group', bargap: 0.188, bargroupgap: 0.36,
  font: {family: FONT, color: INK},
  annotations: []
};

allDots.forEach(function (dots, i) {
  var n = i + 1, box = panelBoxes[i];
  var all = dots.concat(allHalos[i]);
  var xs = [], ys = [];
  for (var k = 0; k < all.length; k += 2) { xs.push(pow10(all[k])); ys.push(pow10(all[k + 1])); }
  var xa = 'x' + n, ya = 'y' + n;
  traces.push({x: xs, y: ys, xaxis: xa, yaxis: ya, type: 'scatter', mode: 'markers', hoverinfo: 'skip',
    marker: {size: 4.2, color: '#111', opacity: 0.85, line: {width: 0}}});
  traces.push({
    x: allCores[i].map(function (p) { return pow10(p[0]); }),
    y: allCores[i].map(function (p) { return pow10(p[1]); }),
    xaxis: xa, yaxis: ya, type: 'scatter', mode: 'lines+markers', hoverinfo: 'skip',
    line: {color: '#050505', width: coreLines[i]},
    marker: {size: coreSizes[i], color: '#050505', opacity: 1, line: {width: 0}}
  });
  traces.push({x: [pow10(gateX[i]), pow10(gateX[i])], y: [pow10(1.42), pow10(5.45)], xaxis: xa, yaxis: ya,
    type: 'scatter', mode: 'lines', line: {color: '#777', width: 2.5}, hoverinfo: 'skip'});
  traces.push({x: [pow10(1.42), pow10(5.45)], y: [pow10(gateY[i]), pow10(gateY[i])], xaxis: xa, yaxis: ya,
    type: 'scatter', mode: 'lines', line: {color: '#777', width: 3}, hoverinfo: 'skip'});

  var common = {
    type: 'log', range: [1.42, 5.45], tickmode: 'array', tickvals: tickValues, ticktext: tickText,
    showgrid: false, zeroline: false, showline: true, mirror: true, linecolor: '#777', linewidth: 3,
    ticks: 'outside', tickcolor: '#777', tickwidth: 2, tickfont: {family: FONT, size: 28, color: INK},
    minor: {ticks: 'outside', ticklen: 5, tickcolor: '#999', tickwidth: 2, tickmode: 'array', tickvals: minorVals, showgrid: false}
  };
  layout['xaxis' + n] = Object.assign({}, common, {domain: [px(box[0]), px(box[1])], anchor: ya, ticklen: 10});
  layout['yaxis' + n] = Object.assign({}, common, {domain: [py(box[3]), py(box[2])], anchor: xa, ticklen: 6, tickangle: -90});

  quadLabels[i].forEach(function (q) {
    layout.annotations.push(label(q[0] * shrink, q[1] * shrink, q[2], 31));
  });
});

// bar chart
var barSeries = [
  {name: 'LSS', y: rateLSS, err: errLSS, pattern: {shape: 'x', size: 11, solidity: 0.5}},
  {name: 'LSS+RAPA', y: rateRAPA, err: errRAPA, pattern: {shape: 'x', size: 34, solidity: 0.5}},
  {name: 'LSS+CQ', y: rateCQ, err: errCQ, pattern: {shape: '-', size: 17, solidity: 0.13}}
];
barSeries.forEach(function (s) {
  traces.push({
    type: 'bar', name: s.name, x: groupIndex, y: s.y, xaxis: 'x16', yaxis: 'y16',
    marker: {color: '#fff', line: {color: INK, width: 10},
      pattern: Object.assign({fgcolor: INK, bgcolor: '#fff'}, s.pattern)},
    error_y: {type: 'data', symmetric: false, array: s.err, arrayminus: [0,0,0,0,0], color: INK, thickness: 7, width: 13}
  });
});
traces.push({
  type: 'scatter', mode: 'text', x: sigX, y: sigY, text: sigText, xaxis: 'x16', yaxis: 'y16', hoverinfo: 'skip',
  textposition: 'middle center', textfont: {family: FONT, size: 31, color: INK}
});
layout.xaxis16 = {
  domain: [px(241), px(1486)], range: [-0.489, 4.543], anchor: 'y16',
  tickmode: 'array', tickvals: groupIndex, ticktext: timeLabels,
  showgrid: false, zeroline: false, showline: true, linecolor: INK, linewidth: 5,
  ticks: 'outside', ticklen: 28, tickwidth: 5, tickcolor: INK, ticklabelstandoff: -3,
  tickfont: {family: FONT, size: 30, color: INK}
};
layout.yaxis16 = {
  domain: [py(2384), py(1553)], range: [0, 40], anchor: 'x16',
  tickmode: 'array', tickvals: [0,10,20,30,40],
  showgrid: false, zeroline: false, showline: true, linecolor: INK, linewidth: 5,
  ticks: 'outside', ticklen: 27, tickwidth: 5, tickcolor: INK, ticklabelstandoff: 3,
  tickfont: {family: FONT, size: 30, color: INK},
  title: {text: 'Apoptosis rates (%)', standoff: 28, font: {family: FONT, size: 30, color: INK}}
};

// legend swatches are bars on their own small axes, so they carry the same patterns
traces.push({
  type: 'bar', orientation: 'h', x: [1,1,1], y: [2,1,0], width: 0.48, xaxis: 'x17', yaxis: 'y17',
  cliponaxis: false, hoverinfo: 'skip', base: 0,
  marker: {
    color: '#fff', line: {color: INK, width: 12},
    pattern: {shape: ['x', 'x', '-'], size: [11, 34, 17], solidity: [0.5, 0.5, 0.13], fgcolor: INK, bgcolor: '#fff'}
  }
});
layout.xaxis17 = {domain: [px(1556), px(1672)], range: [-0.159, 1.159], visible: false, anchor: 'y17'};
layout.yaxis17 = {domain: [py(1848), py(1560)], range: [-0.5, 2.5], visible: false, anchor: 'x17'};
var legendY = [1608, 1703, 1801];
barSeries.forEach(function (s, i) {
  layout.annotations.push(label(1680, legendY[i], s.name, 32, {xanchor: 'left'}));
});

// free text
[[24,31,'A'],[24,1480,'B'],[118,63,'a'],[118,505,'b'],[114,903,'c']].forEach(function (t) {
  layout.annotations.push(label(t[0], t[1], t[2], 30));
});
var titleX = [267,635,971,1326,1680];
timeLabels.forEach(function (t, i) { layout.annotations.push(label(titleX[i], 102, t, 31)); });
var rowLabelX = [1881,1932,1914], rowLabelY = [287,678,1087];
rowLabels.forEach(function (t, i) { layout.annotations.push(label(rowLabelX[i], rowLabelY[i], t, 32)); });
layout.annotations.push(label(24, 676, 'PI', 30));
layout.annotations.push(label(970, 1376, 'Annexin-V-FITC', 31));

// long axis arrows
layout.annotations.push({
  xref: 'paper', yref: 'paper', x: px(74), y: py(176), ax: 0, ay: 1042, showarrow: true,
  arrowhead: 2, arrowsize: 0.9, arrowwidth: 5, arrowcolor: '#111', text: ' '
});
layout.annotations.push({
  xref: 'paper', yref: 'paper', x: px(1830), y: py(1307), ax: -1688, ay: 0, showarrow: true,
  arrowhead: 2, arrowsize: 0.9, arrowwidth: 5, arrowcolor: '#111', text: ' '
});

Plotly.newPlot('chart', traces, layout, {displayModeBar: false, staticPlot: true});
</script>
</body>
</html>
